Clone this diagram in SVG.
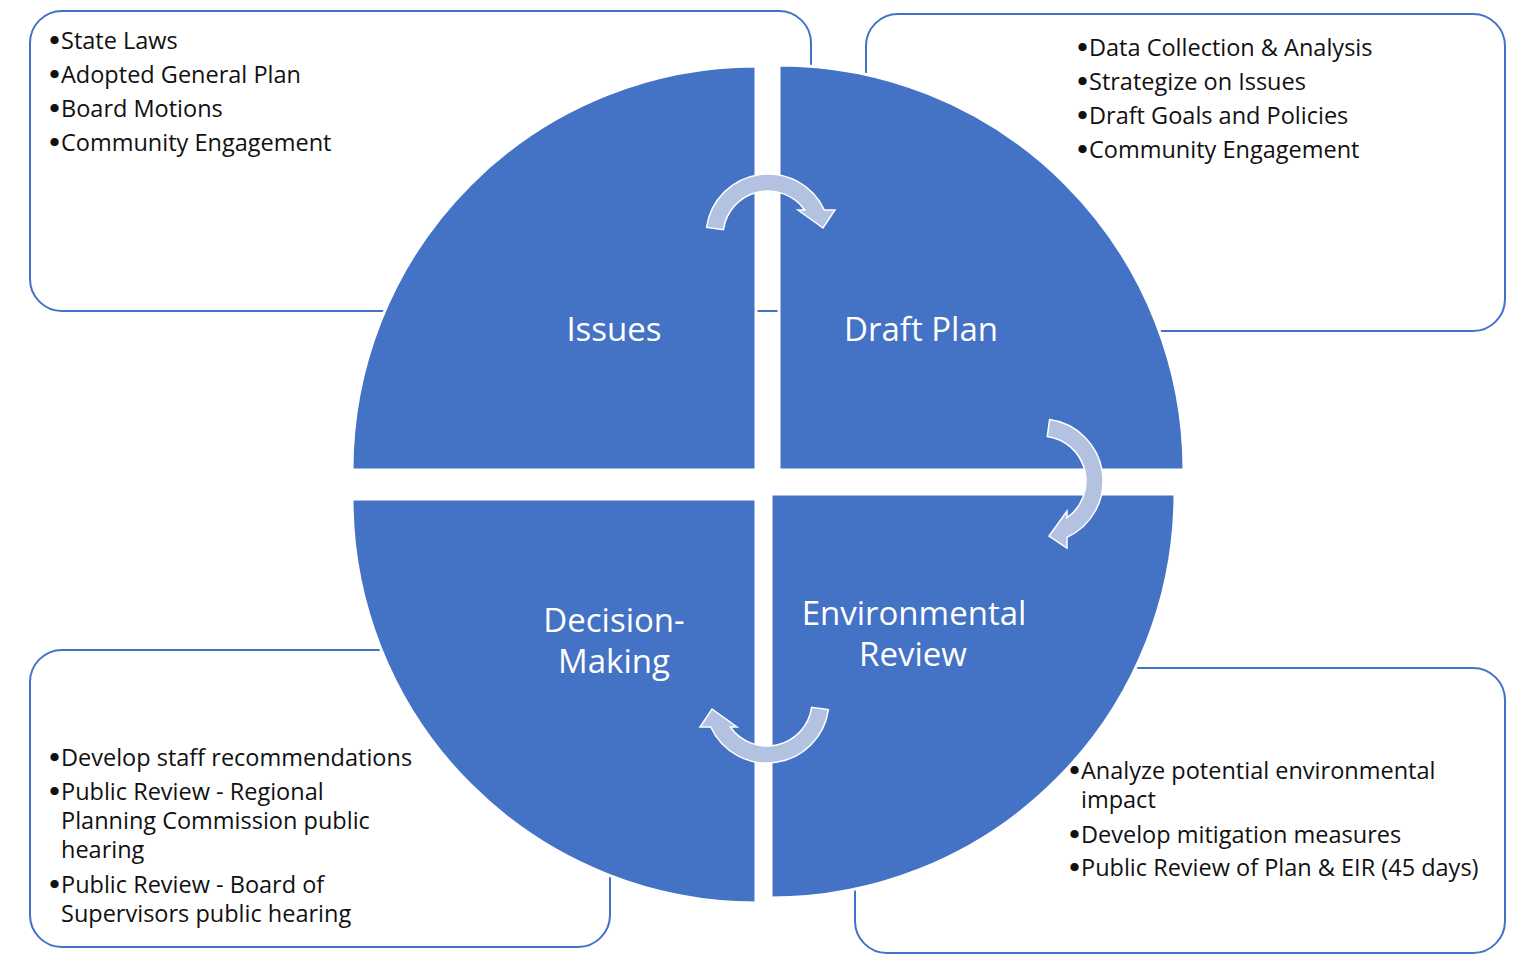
<svg xmlns="http://www.w3.org/2000/svg" width="1514" height="963" viewBox="0 0 1514 963">
<style>
.box{fill:#fff;stroke:#4472C4;stroke-width:2}
.q{fill:#4472C4;stroke:#fff;stroke-width:3}
.lbl{font-family:"Open Sans","Noto Sans",sans-serif;font-size:33px;fill:#fff;text-anchor:middle}
.t{font-family:"Open Sans","Noto Sans",sans-serif;font-size:23.5px;fill:#111}
.b{font-family:"DejaVu Sans",sans-serif;font-weight:bold}
.arr{fill:#B4C2E2;stroke:#fff;stroke-width:1.5;stroke-linejoin:miter}
</style>
<rect width="1514" height="963" fill="#fff"/>
<g id="boxes">
<rect id="box-issues" class="box" x="30" y="11" width="781" height="300" rx="32"/>
<rect id="box-draft" class="box" x="866" y="14" width="639" height="317" rx="32"/>
<rect id="box-decision" class="box" x="30" y="650" width="580" height="297" rx="32"/>
<rect id="box-env" class="box" x="855" y="668" width="650" height="285" rx="32"/>
</g>
<g id="quadrants">
<g id="q-issues"><path class="q" d="M756,470 L352,470 A404,404 0 0 1 756,66 Z"/><text class="lbl" x="614" y="341">Issues</text></g>
<g id="q-draft"><path class="q" d="M779,470 L779,65 A405,405 0 0 1 1184,470 Z"/><text class="lbl" x="921" y="341">Draft Plan</text></g>
<g id="q-decision"><path class="q" d="M756,499 L756,903 A404,404 0 0 1 352,499 Z"/><text class="lbl" x="614" y="632">Decision-</text><text class="lbl" x="614" y="673">Making</text></g>
<g id="q-env"><path class="q" d="M771,494 L1175,494 A404,404 0 0 1 771,898 Z"/><text class="lbl" x="914" y="625">Environmental</text><text class="lbl" x="913" y="666">Review</text></g>
</g>
<g id="text-issues">
<text class="t" x="47" y="49"><tspan class="b">•</tspan><tspan x="61">State Laws</tspan></text>
<text class="t" x="47" y="83"><tspan class="b">•</tspan><tspan x="61">Adopted General Plan</tspan></text>
<text class="t" x="47" y="117"><tspan class="b">•</tspan><tspan x="61">Board Motions</tspan></text>
<text class="t" x="47" y="151"><tspan class="b">•</tspan><tspan x="61">Community Engagement</tspan></text>
</g>
<g id="text-draft">
<text class="t" x="1075" y="56"><tspan class="b">•</tspan><tspan x="1089">Data Collection &amp; Analysis</tspan></text>
<text class="t" x="1075" y="90"><tspan class="b">•</tspan><tspan x="1089">Strategize on Issues</tspan></text>
<text class="t" x="1075" y="124"><tspan class="b">•</tspan><tspan x="1089">Draft Goals and Policies</tspan></text>
<text class="t" x="1075" y="158"><tspan class="b">•</tspan><tspan x="1089">Community Engagement</tspan></text>
</g>
<g id="text-decision">
<text class="t" x="47" y="766"><tspan class="b">•</tspan><tspan x="61">Develop staff recommendations</tspan></text>
<text class="t" x="47" y="800"><tspan class="b">•</tspan><tspan x="61">Public Review - Regional</tspan></text>
<text class="t" x="61" y="829">Planning Commission public</text>
<text class="t" x="61" y="858">hearing</text>
<text class="t" x="47" y="893"><tspan class="b">•</tspan><tspan x="61">Public Review - Board of</tspan></text>
<text class="t" x="61" y="922">Supervisors public hearing</text>
</g>
<g id="text-env">
<text class="t" x="1067" y="779"><tspan class="b">•</tspan><tspan x="1081">Analyze potential environmental</tspan></text>
<text class="t" x="1081" y="808">impact</text>
<text class="t" x="1067" y="843"><tspan class="b">•</tspan><tspan x="1081">Develop mitigation measures</tspan></text>
<text class="t" x="1067" y="876"><tspan class="b">•</tspan><tspan x="1081">Public Review of Plan &amp; EIR (45 days)</tspan></text>
</g>
<g id="connectors">
<path class="arr" d="M706.6,227.4 A62,62 0 0 1 824.3,210 L835,210 L823,228 L798,210 L804.7,210 A45,45 0 0 0 723.4,229.7 Z"/>
<path class="arr" d="M1049.6,419.6 A62,62 0 0 1 1067,537.3 L1067,548 L1049,536 L1067,511 L1067,517.7 A45,45 0 0 0 1047.3,436.4 Z"/>
<path class="arr" d="M828.4,709.6 A62,62 0 0 1 710.7,727 L700,727 L712,709 L737,727 L730.3,727 A45,45 0 0 0 811.6,707.3 Z"/>
</g>
</svg>
